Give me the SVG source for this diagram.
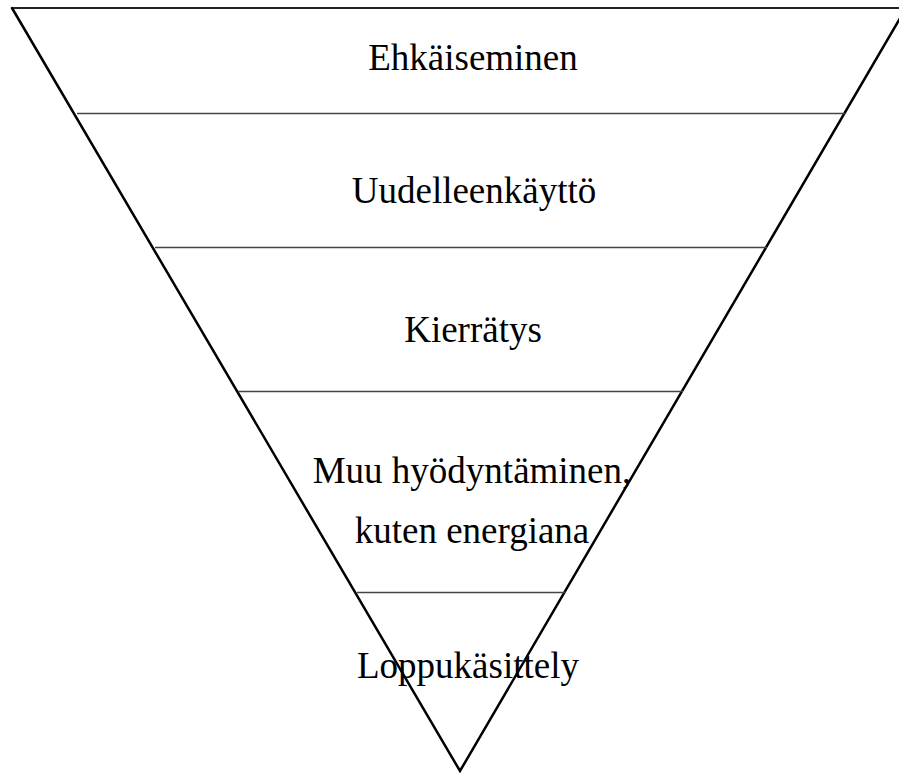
<svg xmlns="http://www.w3.org/2000/svg" width="899" height="773" viewBox="0 0 899 773">
  <style>
    .edge { fill: none; stroke: #000; stroke-width: 2.5; stroke-linecap: round; stroke-linejoin: miter; }
    .top { fill: none; stroke: #222; stroke-width: 2; }
    .tier { fill: none; stroke: #444; stroke-width: 1.3; }
    .label { font-family: "Liberation Serif", "Times New Roman", serif; font-size: 37px; fill: #000; text-anchor: middle; }
  </style>
  <rect width="899" height="773" fill="#fff"/>

  <!-- inverted triangle outline -->
  <g id="frame">
    <line class="top" x1="12" y1="8" x2="899" y2="8"/>
    <polyline class="edge" points="12,8 460,771 906,8"/>
  </g>

  <!-- tier dividers -->
  <g id="dividers">
    <line class="tier" x1="77" y1="113.5" x2="845" y2="113.5"/>
    <line class="tier" x1="155" y1="247.5" x2="767" y2="247.5"/>
    <line class="tier" x1="238" y1="391.5" x2="683" y2="391.5"/>
    <line class="tier" x1="357" y1="592.5" x2="566" y2="592.5"/>
  </g>

  <g id="tier-1"><text class="label" x="473" y="70">Ehkäiseminen</text></g>
  <g id="tier-2"><text class="label" x="474" y="203">Uudelleenkäyttö</text></g>
  <g id="tier-3"><text class="label" x="473" y="342">Kierrätys</text></g>
  <g id="tier-4">
    <text class="label" x="472" y="483">Muu hyödyntäminen,</text>
    <text class="label" x="472" y="543">kuten energiana</text>
  </g>
  <g id="tier-5"><text class="label" x="468" y="678">Loppukäsittely</text></g>
</svg>
